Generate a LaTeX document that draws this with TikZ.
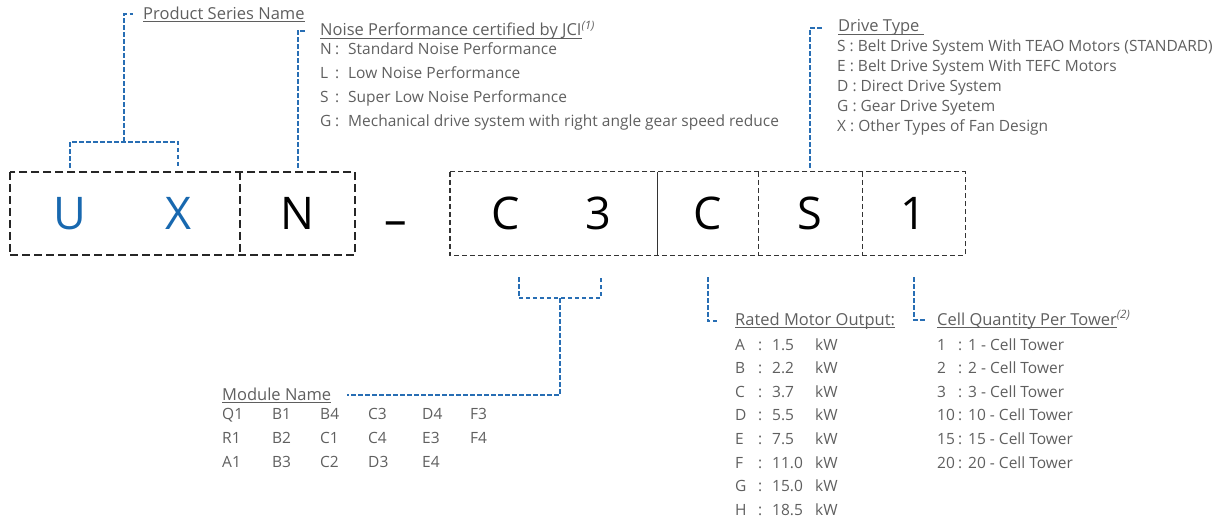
\documentclass[tikz,border=0pt]{standalone}
\usepackage{fontspec}
\setmainfont{Open Sans}
\usepackage{tikz}
\usetikzlibrary{calc}
\definecolor{linkblue}{RGB}{40, 110, 180}
\definecolor{codeblue}{RGB}{24, 104, 175}
\definecolor{notegray}{RGB}{95, 95, 95}
\newcommand\undl[1]{\setbox0\hbox{#1}\rlap{\rule[-2.4pt]{\wd0}{0.7pt}}\box0}
\tikzset{
  cell/.style = {minimum width=#1, minimum height=83pt, inner sep=0pt},
  cell/.default = 103pt,
  bigchar/.style = {font=\fontsize{45}{45}\selectfont, inner sep=0pt,
    text=#1},
  bigchar/.default = black,
  frameA/.style = {draw=black!85, line width=2pt,
    dash pattern=on 8pt off 4pt},
  frameB/.style = {draw=black!80, line width=1.4pt,
    dash pattern=on 5pt off 3pt},
  conn/.style = {draw=linkblue, line width=2pt,
    dash pattern=on 4.5pt off 2.5pt},
  head/.style = {anchor=base west, inner sep=0pt, text=notegray,
    font=\fontsize{16.5}{18}\selectfont},
  items/.style = {anchor=base west, inner sep=0pt, text=notegray,
    font=\fontsize{15.5}{#1}\selectfont},
  items/.default = 24pt,
}

\begin{document}
\begin{tikzpicture}[x=1pt, y=1pt]

  \path[use as bounding box] (0,0) rectangle (1232,-524);

  % code boxes
  \node[cell=230pt] (ux) at (125,-213.5) {};
  \node[bigchar=codeblue] (u) at (70,-213.5) {U};
  \node[bigchar=codeblue] (x) at (178,-213.5) {X};
  \node[cell=115pt, bigchar] (n) at (297.5,-213.5) {N};
  \node[bigchar] (dash) at (396,-229) {--};
  \node[cell=207pt] (c3) at (553.5,-213.5) {};
  \node[bigchar] (cl) at (506,-213.5) {C};
  \node[bigchar] (three) at (598,-213.5) {3};
  \node[cell=101pt, bigchar] (c) at (707.5,-213.5) {C};
  \node[cell=104pt, bigchar] (s) at (810,-213.5) {S};
  \node[cell=103pt, bigchar] (one) at (913.5,-213.5) {1};

  \draw[frameA] (ux.north west) rectangle (n.south east);
  \draw[frameA] (ux.north east) -- (ux.south east);
  \draw[frameB] (c3.north west) rectangle (one.south east);
  \draw[black!80, line width=1.4pt] (c3.north east) -- (c3.south east);
  \draw[frameB] (c.north east) -- (c.south east);
  \draw[frameB] (s.north east) -- (s.south east);

  % headings
  \node[head] (psname) at (143,-19.5) {\undl{Product Series Name}};
  \node[head] (noise) at (320,-36)
    {\undl{Noise Performance certified by JCI}\textsuperscript{\itshape(1)}};
  \node[head] (drive) at (838,-32) {\undl{Drive Type\ }};
  \node[head] (module) at (222,-400) {\undl{Module Name}};
  \node[head] (rated) at (735,-325) {\undl{Rated Motor Output:}};
  \node[head] (cellq) at (937,-325)
    {\undl{Cell Quantity Per Tower}\textsuperscript{\itshape(2)}};

  % option lists
  \node[items] (noiselist) at (320,-54.5)
    {\begin{tabular}[t]{@{}p{15pt}@{}p{13pt}@{}l@{}}
      N & : & Standard Noise Performance\\
      L & : & Low Noise Performance\\
      S & : & Super Low Noise Performance\\
      G & : & Mechanical drive system with right angle gear speed reduce
     \end{tabular}};
  \node[items=20pt] (drivelist) at (837,-52)
    {\begin{tabular}[t]{@{}l@{}}
      S : Belt Drive System With TEAO Motors (STANDARD)\\
      E : Belt Drive System With TEFC Motors\\
      D : Direct Drive System\\
      G : Gear Drive Syetem\\
      X : Other Types of Fan Design
     \end{tabular}};
  \node[items] (modlist) at (222,-419)
    {\begin{tabular}[t]{@{}p{50pt}@{}p{48pt}@{}p{48pt}@{}p{54pt}@{}p{48pt}@{}l@{}}
      Q1 & B1 & B4 & C3 & D4 & F3\\
      R1 & B2 & C1 & C4 & E3 & F4\\
      A1 & B3 & C2 & D3 & E4 &
     \end{tabular}};
  \node[items=23.6pt] (ratedlist) at (735,-350)
    {\begin{tabular}[t]{@{}p{23pt}@{}p{14pt}@{}p{43pt}@{}l@{}}
      A & : & 1.5 & kW\\
      B & : & 2.2 & kW\\
      C & : & 3.7 & kW\\
      D & : & 5.5 & kW\\
      E & : & 7.5 & kW\\
      F & : & 11.0 & kW\\
      G & : & 15.0 & kW\\
      H & : & 18.5 & kW
     \end{tabular}};
  \node[items=23.6pt] (celllist) at (937,-350)
    {\begin{tabular}[t]{@{}p{21pt}@{}p{10pt}@{}l@{}}
      1 & : & 1 - Cell Tower\\
      2 & : & 2 - Cell Tower\\
      3 & : & 3 - Cell Tower\\
      10 & : & 10 - Cell Tower\\
      15 & : & 15 - Cell Tower\\
      20 & : & 20 - Cell Tower
     \end{tabular}};

  % connectors
  \draw[conn, shorten <=4pt, shorten >=4pt]
    (u |- ux.north) -- ++(0,30) -| (x |- ux.north);
  \draw[conn, shorten >=10pt]
    ($(u |- ux.north)!0.5!(x |- ux.north)+(0,30)$) |- (psname.west);
  \draw[conn, shorten <=4pt, shorten >=15pt] (n.north) |- (noise.west);
  \draw[conn, shorten <=4pt, shorten >=16pt] (s.north) |- (drive.west);
  \coordinate (mL) at ($(c3.south west)+(69,-22)$);
  \coordinate (mR) at ($(c3.south west)+(151,-22)$);
  \draw[conn] (mL) -- ++(0,-21) -| (mR);
  \draw[conn, shorten >=16pt]
    ($(mL)!0.5!(mR)+(0,-21)$) |- (module.east);
  \draw[conn, shorten <=22pt, shorten >=17pt] (c.south) |- (rated.west);
  \draw[conn, shorten <=22pt, shorten >=12pt] (one.south) |- (cellq.west);

\end{tikzpicture}
\end{document}
